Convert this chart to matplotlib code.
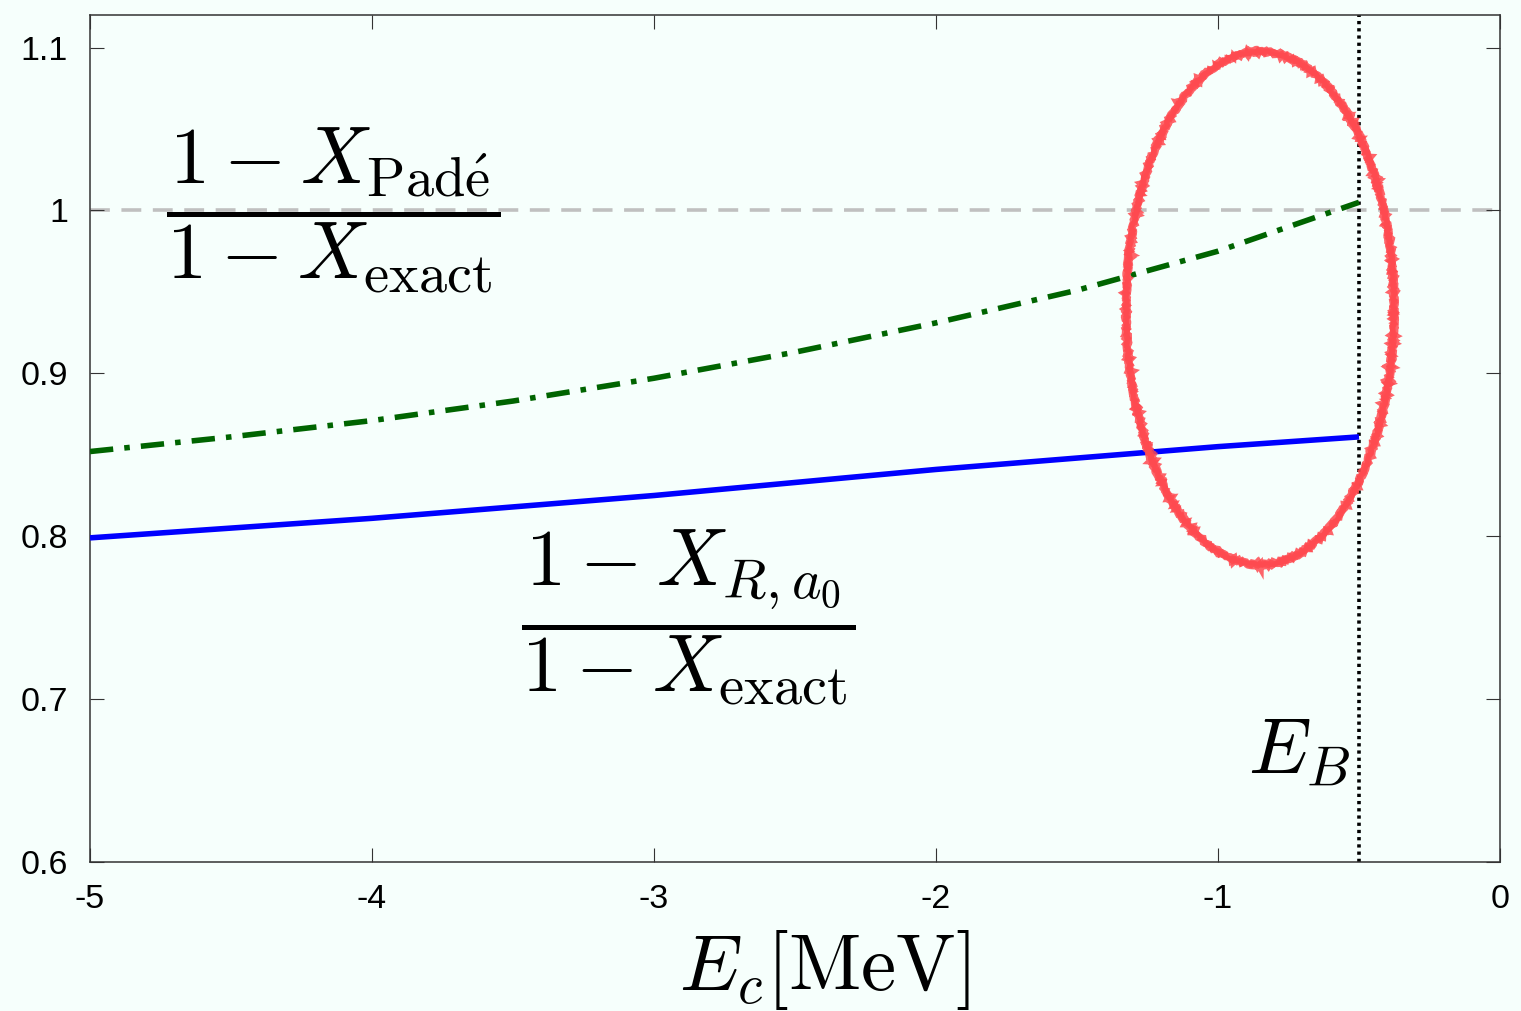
import matplotlib
matplotlib.use("Agg")
import matplotlib.pyplot as plt
from matplotlib.patches import Ellipse

# valeurs
ec = [-5.0, -4.5, -4.0, -3.5, -3.0, -2.5, -2.0, -1.5, -1.0, -0.5]
ratio_pade = [0.852, 0.861, 0.871, 0.883, 0.897, 0.913, 0.931, 0.951, 0.975, 1.005]
ratio_ra0 = [0.799, 0.805, 0.811, 0.818, 0.825, 0.833, 0.841, 0.848, 0.855, 0.861]
e_binding = -0.5
x_ticks = [-5, -4, -3, -2, -1, 0]
x_labels = ["-5", "-4", "-3", "-2", "-1", "0"]
y_ticks = [0.6, 0.7, 0.8, 0.9, 1.0, 1.1]
y_labels = ["0.6", "0.7", "0.8", "0.9", "1", "1.1"]

# ellipse rouge (centre, largeur, hauteur en unites des axes)
circle_center = (-0.851, 0.940)
circle_w = 0.95
circle_h = 0.315

bg = "#f6fffc"
plt.rcParams["mathtext.fontset"] = "cm"
plt.rcParams["font.family"] = ["Liberation Sans", "DejaVu Sans"]

fig = plt.figure(figsize=(15.21, 10.11), dpi=100, facecolor=bg)
ax = fig.add_axes([90 / 1521, 1 - 862 / 1011, 1410 / 1521, 847 / 1011])
ax.set_facecolor(bg)

# ligne de reference y = 1
ax.plot([-5, 0], [1, 1], color="#c0c0c0", lw=2.6, dashes=(5.5, 3.2), zorder=1)
# energie de liaison
ax.axvline(e_binding, color="black", lw=2.6, dashes=(0.9, 1.1), zorder=2)

ax.plot(ec, ratio_ra0, color="#0000ff", lw=4.0, solid_capstyle="butt", zorder=3)
ax.plot(ec, ratio_pade, color="#006400", lw=4.0, dashes=(4.2, 2.0, 1.0, 2.0), zorder=3)

# ellipse dessinee a la main
for k, lw in enumerate([5.5, 4.0, 3.0]):
    el = Ellipse(circle_center, circle_w, circle_h, fill=False,
                 edgecolor="#ff4a50", lw=lw, alpha=0.85, zorder=4)
    el.set_sketch_params(scale=1.2, length=4 + 3 * k, randomness=12)
    ax.add_patch(el)

ax.set_xlim(-5, 0)
ax.set_ylim(0.6, 1.12)
ax.set_xticks(x_ticks)
ax.set_xticklabels(x_labels)
ax.set_yticks(y_ticks)
ax.set_yticklabels(y_labels)
ax.tick_params(direction="in", length=10, width=0.8, color="#333333",
               top=True, right=True, labelsize=24.5, pad=16)
for s in ax.spines.values():
    s.set_color("#333333")
    s.set_linewidth(1.1)

ax.text(-4.138, 1.0, r"$\dfrac{1 - X_{\mathrm{Pad\acute{e}}}}{1 - X_{\mathrm{exact}}}$",
        fontsize=58, ha="center", va="center")
ax.text(-2.879, 0.75, r"$\dfrac{1 - X_{R,a_0}}{1 - X_{\mathrm{exact}}}$",
        fontsize=58, ha="center", va="center")
ax.text(-0.53, 0.667, r"$E_B$", fontsize=57, ha="right", va="center")

fig.text(824 / 1521, 1 - 970 / 1011, r"$E_c[\mathrm{MeV}]$", fontsize=57,
         ha="center", va="center")

fig.savefig("out.png", dpi=100, facecolor=bg)
